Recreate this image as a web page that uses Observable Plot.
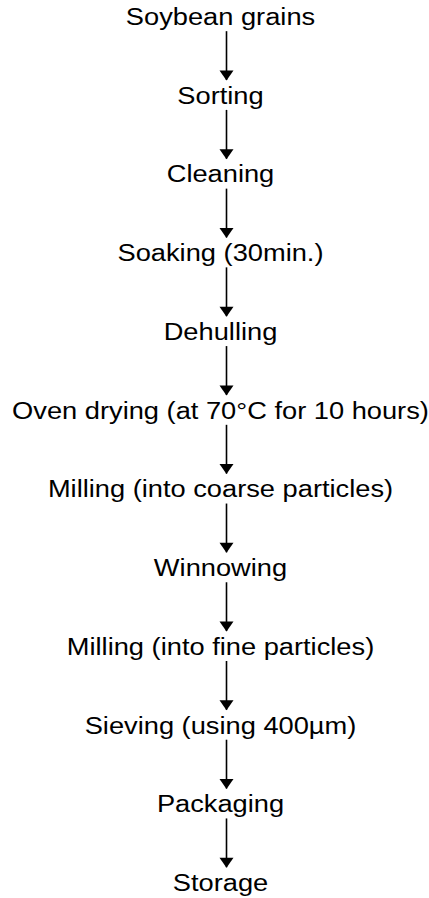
<!DOCTYPE html>
<html>
<head>
<meta charset="utf-8">
<script src="https://cdn.jsdelivr.net/npm/d3@7"></script>
<script src="https://cdn.jsdelivr.net/npm/@observablehq/plot@0.6"></script>
<style>
  html, body { margin: 0; padding: 0; background: #fff; }
  #chart svg { display: block; }
</style>
</head>
<body>
<div id="chart"></div>
<script>
// Process steps, in order (top to bottom)
const steps = [
  "Soybean grains",
  "Sorting",
  "Cleaning",
  "Soaking (30min.)",
  "Dehulling",
  "Oven drying (at 70°C for 10 hours)",
  "Milling (into coarse particles)",
  "Winnowing",
  "Milling (into fine particles)",
  "Sieving (using 400µm)",
  "Packaging",
  "Storage"
];
// Step order index
const order = steps.map((_, i) => i);

const nodes = steps.map((label, i) => ({label, step: order[i]}));
const links = d3.pairs(order).map(([a, b]) => ({from: a, to: b}));

const downTriangle = {
  draw(context, size) {
    const r = Math.sqrt(size / Math.PI);
    context.moveTo(-r * 1.4, -r);
    context.lineTo(r * 1.4, -r);
    context.lineTo(0, r);
    context.closePath();
  }
};

const chart = Plot.plot({
  width: 429,
  height: 898,
  margin: 0,
  x: {domain: [0, 1], range: [0, 440], axis: null},
  y: {domain: [0, steps.length - 1], range: [17, 883], axis: null},
  marks: [
    Plot.ruleX(links, {
      x: () => 0.5,
      y1: d => d.from + 0.18,
      y2: d => d.to - 0.2,
      dx: 6,
      stroke: "black",
      strokeWidth: 1.6
    }),
    Plot.dot(links, {
      x: () => 0.5,
      y: d => d.to - 0.2,
      dx: 6,
      dy: -5,
      r: 5,
      symbol: downTriangle,
      fill: "black",
      stroke: "none"
    }),
    Plot.text(nodes, {
      x: () => 0.5,
      y: "step",
      text: "label",
      fontSize: 23.5,
      fill: "black",
      textAnchor: "middle",
      lineAnchor: "middle"
    })
  ],
  style: {fontFamily: "'Liberation Sans', Arial, sans-serif", background: "white"}
});

// stretch the lettering horizontally to match the reference typeface width
d3.select(chart).selectAll("text").each(function () {
  const t = this.getAttribute("transform");
  if (t) {
    this.setAttribute("transform", t + " scale(1.16,1)");
  } else {
    const x = +this.getAttribute("x") || 0;
    const y = +this.getAttribute("y") || 0;
    this.setAttribute("transform", `translate(${x},${y}) scale(1.16,1) translate(${-x},${-y})`);
  }
});

document.getElementById("chart").appendChild(chart);
</script>
</body>
</html>
